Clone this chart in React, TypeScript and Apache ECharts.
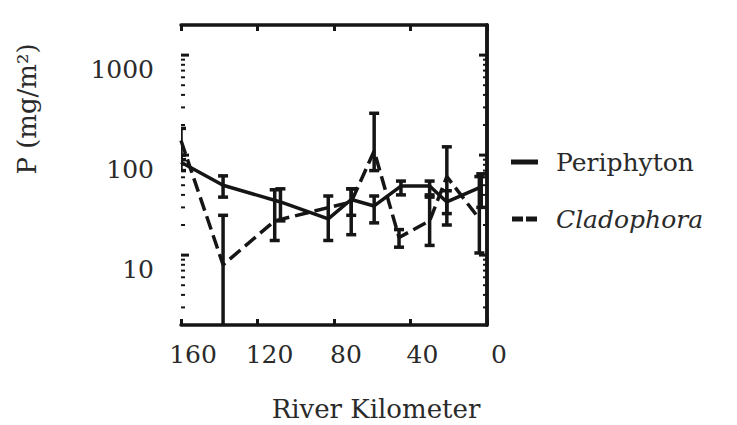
import React, { useEffect, useRef } from "react";
import * as echarts from "echarts";

// River kilometre positions and P values (mg/m²)
const periKm = [160, 138, 108, 83, 71, 59, 45, 30, 21, 3];
const periVal = [85, 50, 34, 23, 36, 31, 49, 49, 34, 48];
const periLow = [70, 38, 22, 14, 16, 21, 40, 40, 26, 30];
const periHigh = [100, 62, 46, 39, 46, 39, 55, 55, 44, 65];

const cladKm = [160, 138, 111, 71, 59, 46, 30, 21, 4];
const cladVal = [140, 8, 22, 34, 110, 15, 22, 61, 23];
const cladLow = [90, 1, 14, 25, 70, 12, 12.5, 20, 10.5];
const cladHigh = [185, 25, 45, 46, 262, 18, 38, 121, 61];

const xTicks = [0, 40, 80, 120, 160];
const majorTickValues = [10, 100, 1000];
const minorTickValues = [3, 4, 5, 6, 7, 8, 9, 20, 30, 40, 50, 60, 70, 80, 90, 200, 300, 400, 500, 600, 700, 800, 900];

const FONT = "DejaVu Serif";
const INK = "#151515";
const TXT = "#2a2a2a";

export default function App() {
  const ref = useRef<HTMLDivElement>(null);
  useEffect(() => {
    if (!ref.current) return;
    document.body.style.margin = "0";
    const chart = echarts.init(ref.current, null, { renderer: "svg" });

    const errRender = (params: any, api: any) => {
      const x = api.value(0);
      const lo = api.value(1);
      const hi = api.value(2);
      const pTop = api.coord([x, hi]);
      const pBot = api.coord([x, lo]);
      const cw = 5;
      const st = { stroke: INK, lineWidth: 3.5 };
      return {
        type: "group",
        children: [
          { type: "line", shape: { x1: pTop[0], y1: pTop[1], x2: pBot[0], y2: pBot[1] }, style: st },
          { type: "line", shape: { x1: pTop[0] - cw, y1: pTop[1], x2: pTop[0] + cw, y2: pTop[1] }, style: st },
          { type: "line", shape: { x1: pBot[0] - cw, y1: pBot[1], x2: pBot[0] + cw, y2: pBot[1] }, style: st },
        ],
      };
    };

    const tickRender = (len: number, w: number) => (params: any, api: any) => {
      const v = api.value(0);
      const pl = api.coord([xTicks[xTicks.length - 1], v]);
      const pr = api.coord([xTicks[0], v]);
      const st = { stroke: INK, lineWidth: w };
      return {
        type: "group",
        children: [
          { type: "line", shape: { x1: pl[0], y1: pl[1], x2: pl[0] + len, y2: pl[1] }, style: st },
          { type: "line", shape: { x1: pr[0] - len, y1: pr[1], x2: pr[0], y2: pr[1] }, style: st },
        ],
      };
    };

    const axisLineStyle = { show: true, lineStyle: { color: INK, width: 3.5 } };

    chart.setOption({
      animation: false,
      backgroundColor: "#ffffff",
      grid: { left: 181, right: 250, top: 25, bottom: 100 },
      xAxis: [
        {
          type: "value",
          inverse: true,
          min: 0,
          max: 160,
          interval: 40,
          axisLine: axisLineStyle,
          axisTick: { show: true, inside: true, length: 6, lineStyle: { color: INK, width: 3 } },
          splitLine: { show: false },
          axisLabel: {
            margin: 17,
            formatter: (v: number) => "{a|" + v + "}",
            rich: {
              a: {
                fontFamily: FONT,
                fontSize: 25,
                color: TXT,
                padding: [0, 0, 0, 24],
              },
            },
          },
        },
        {
          type: "value",
          position: "top",
          inverse: true,
          min: 0,
          max: 160,
          interval: 40,
          axisLine: axisLineStyle,
          axisTick: { show: true, inside: true, length: 6, lineStyle: { color: INK, width: 3 } },
          splitLine: { show: false },
          axisLabel: { show: false },
        },
      ],
      yAxis: [
        {
          type: "log",
          logBase: 10,
          min: 2,
          max: 2000,
          axisLine: axisLineStyle,
          axisTick: { show: false },
          splitLine: { show: false },
          axisLabel: {
            fontFamily: FONT,
            fontSize: 25,
            color: TXT,
            margin: 27,
            verticalAlign: "top",
            lineHeight: 28,
            showMinLabel: false,
            showMaxLabel: false,
            formatter: (v: number) => String(v),
          },
        },
        {
          type: "log",
          logBase: 10,
          min: 2,
          max: 2000,
          position: "right",
          axisLine: axisLineStyle,
          axisTick: { show: false },
          splitLine: { show: false },
          axisLabel: { show: false },
        },
      ],
      legend: {
        orient: "vertical",
        left: 506,
        top: 142,
        itemWidth: 27,
        itemHeight: 5,
        itemGap: 27,
        textStyle: { fontFamily: FONT, fontSize: 25, color: TXT, lineHeight: 30, padding: [0, 0, 0, 13] },
        data: [
          { name: "Periphyton", icon: "rect" },
          {
            name: "Cladophora",
            icon: "path://M0,0H11V5H0Z M14,0H25V5H14Z",
            textStyle: { fontStyle: "italic" },
          },
        ],
      },
      graphic: [
        {
          type: "text",
          x: 376,
          y: 409,
          style: {
            text: "River Kilometer",
            fontFamily: FONT,
            fontSize: 26,
            fill: TXT,
            align: "center",
            verticalAlign: "middle",
          },
        },
        {
          type: "text",
          x: 27,
          y: 109,
          rotation: Math.PI / 2,
          style: {
            text: "P (mg/m²)",
            fontFamily: FONT,
            fontSize: 26,
            fill: TXT,
            align: "center",
            verticalAlign: "middle",
          },
        },
      ],
      series: [
        {
          name: "Periphyton",
          type: "line",
          showSymbol: false,
          symbol: "none",
          data: periKm.map((k, i) => [k, periVal[i]]),
          lineStyle: { color: INK, width: 3.5 },
          itemStyle: { color: INK },
          z: 3,
        },
        {
          name: "Cladophora",
          type: "line",
          showSymbol: false,
          symbol: "none",
          data: cladKm.map((k, i) => [k, cladVal[i]]),
          lineStyle: { color: INK, width: 3.5, type: [14, 6] },
          itemStyle: { color: INK },
          z: 3,
        },
        {
          type: "custom",
          name: "periErr",
          renderItem: errRender,
          clip: true,
          data: periKm.map((k, i) => [k, periLow[i], periHigh[i]]),
          z: 4,
        },
        {
          type: "custom",
          name: "cladErr",
          renderItem: errRender,
          clip: true,
          data: cladKm.map((k, i) => [k, cladLow[i], cladHigh[i]]),
          z: 4,
        },
        {
          type: "custom",
          name: "majorTicks",
          renderItem: tickRender(8, 3),
          data: majorTickValues.map((v) => [v]),
          encode: { y: 0 },
          silent: true,
          z: 5,
        },
        {
          type: "custom",
          name: "minorTicks",
          renderItem: tickRender(4, 2),
          data: minorTickValues.map((v) => [v]),
          encode: { y: 0 },
          silent: true,
          z: 5,
        },
      ],
    });
    return () => chart.dispose();
  }, []);
  return <div ref={ref} style={{ width: 737, height: 425 }} />;
}
